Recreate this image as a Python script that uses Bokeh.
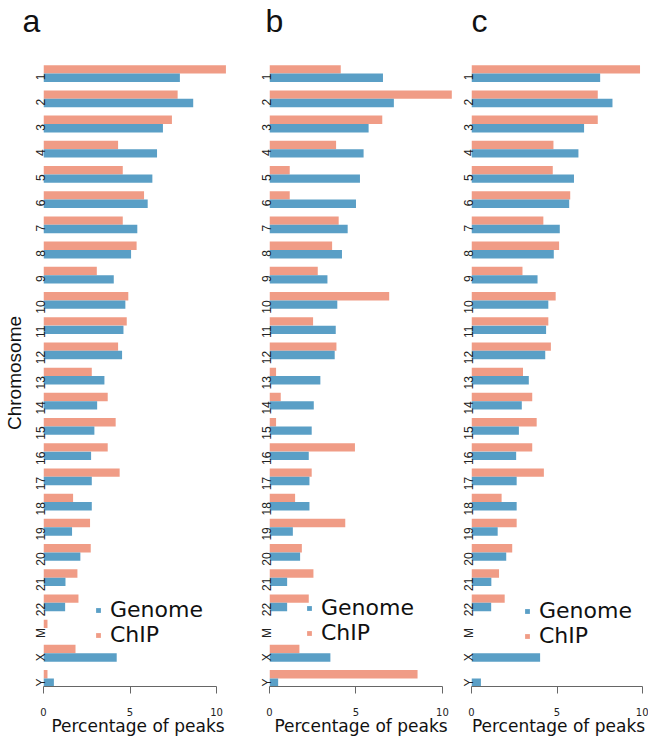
import math
from bokeh.plotting import figure
from bokeh.models import (Range1d, FixedTicker, ColumnDataSource, Legend,
                          LegendItem, Title)
from bokeh.transform import dodge
from bokeh.layouts import row
from bokeh.embed import file_html
from bokeh.resources import INLINE

chromosomes = [str(i) for i in range(1, 23)] + ["M", "X", "Y"]
x_ticks = [0, 5, 10]

a_genome = [7.88, 8.65, 6.90, 6.56, 6.29, 6.02, 5.42, 5.06, 4.06, 4.73, 4.62, 4.54, 3.52,
            3.10, 2.94, 2.75, 2.79, 2.79, 1.65, 2.13, 1.27, 1.25, 0.0, 4.23, 0.60]
a_chip = [10.54, 7.75, 7.42, 4.31, 4.58, 5.81, 4.58, 5.38, 3.08, 4.90, 4.81, 4.31, 2.79,
          3.71, 4.17, 3.71, 4.40, 1.71, 2.69, 2.73, 1.96, 2.02, 0.23, 1.85, 0.23]

b_genome = [6.56, 7.19, 5.73, 5.44, 5.23, 5.00, 4.52, 4.19, 3.35, 3.92, 3.83, 3.77, 2.94,
            2.56, 2.44, 2.27, 2.31, 2.31, 1.35, 1.77, 1.02, 1.02, 0.0, 3.52, 0.50]
b_chip = [4.12, 10.54, 6.52, 3.85, 1.17, 1.17, 4.00, 3.62, 2.79, 6.92, 2.52, 3.87, 0.38,
          0.65, 0.38, 4.94, 2.44, 1.48, 4.38, 1.87, 2.54, 2.27, 0.0, 1.73, 8.56]

c_genome = [7.52, 8.24, 6.58, 6.25, 5.99, 5.71, 5.16, 4.81, 3.86, 4.49, 4.36, 4.31, 3.35,
            2.94, 2.77, 2.61, 2.64, 2.64, 1.53, 2.03, 1.16, 1.15, 0.0, 4.01, 0.55]
c_chip = [9.85, 7.38, 7.38, 4.79, 4.75, 5.77, 4.20, 5.12, 2.98, 4.92, 4.49, 4.64, 3.01,
          3.55, 3.81, 3.55, 4.23, 1.76, 2.64, 2.38, 1.61, 1.94, 0.0, 0.0, 0.0]

CHIP_COLOR = "#F09C86"
GENOME_COLOR = "#5A9FC6"

FIG_H = 738
TOP = 58
BOTTOM = 50


def make_panel(letter, genome, chip, width, bl, br, xmax, ylabel, leg_loc, t_off):
    pos = list(range(1, len(chromosomes) + 1))
    src = ColumnDataSource(dict(pos=pos, genome=genome, chip=chip))
    p = figure(width=width, height=FIG_H, output_backend="svg", toolbar_location=None,
               x_range=Range1d(0, xmax), y_range=Range1d(25.32, 0.44),
               min_border_left=bl, min_border_right=br, min_border_top=TOP,
               min_border_bottom=BOTTOM)
    p.grid.visible = False
    p.outline_line_color = None
    p.background_fill_color = None
    p.border_fill_color = None

    rc = p.hbar(y=dodge("pos", -0.1667, range=p.y_range), right="chip", left=0,
                height=0.333, source=src, fill_color=CHIP_COLOR, line_color=None)
    rg = p.hbar(y=dodge("pos", 0.1667, range=p.y_range), right="genome", left=0,
                height=0.333, source=src, fill_color=GENOME_COLOR, line_color=None)

    xa = p.xaxis[0]
    xa.ticker = FixedTicker(ticks=x_ticks)
    xa.bounds = (0, 10)
    xa.axis_line_color = "#666666"
    xa.major_tick_line_color = "#666666"
    xa.minor_tick_line_color = None
    xa.major_tick_out = 7
    xa.major_tick_in = 0
    xa.major_label_standoff = 14
    xa.major_label_text_font = "DejaVu Sans"
    xa.major_label_text_font_size = "10px"
    xa.major_label_text_color = "#222222"
    xa.axis_label = "Percentage of peaks"
    xa.axis_label_text_font = "DejaVu Sans"
    xa.axis_label_text_font_size = "17px"
    xa.axis_label_text_font_style = "normal"
    xa.axis_label_text_color = "#111111"
    xa.axis_label_standoff = -3

    ya = p.yaxis[0]
    ya.ticker = FixedTicker(ticks=pos)
    ya.major_label_overrides = {i: c for i, c in zip(pos, chromosomes)}
    ya.major_label_orientation = math.pi / 2
    ya.axis_line_color = None
    ya.major_tick_line_color = None
    ya.minor_tick_line_color = None
    ya.major_tick_out = 0
    ya.major_tick_in = 0
    ya.major_label_standoff = 2
    ya.major_label_text_font = "Liberation Sans"
    ya.major_label_text_font_size = "12px"
    ya.major_label_text_color = "#222222"
    if ylabel:
        ya.axis_label = "Chromosome"
        ya.axis_label_text_font = "Liberation Sans"
        ya.axis_label_text_font_size = "19px"
        ya.axis_label_text_font_style = "normal"
        ya.axis_label_text_color = "#111111"
        ya.axis_label_standoff = 0

    t = Title(text=letter + "\n ", align="left", offset=t_off, standoff=0,
              vertical_align="bottom", text_line_height=0.58,
              text_font="Liberation Sans", text_font_size="32px",
              text_font_style="normal", text_color="#111111")
    p.add_layout(t, "above")

    legend = Legend(items=[LegendItem(label="Genome", renderers=[rg]),
                           LegendItem(label="ChIP", renderers=[rc])],
                    location=leg_loc, glyph_width=6, glyph_height=6,
                    label_standoff=9, spacing=0, padding=0, margin=0,
                    border_line_color=None, background_fill_alpha=0,
                    label_text_font="DejaVu Sans", label_text_font_size="22px",
                    label_text_color="#111111", label_height=24)
    p.add_layout(legend)
    return p


pa = make_panel("a", a_genome, a_chip, 233, 43, 1, 10.92, True, (52, 39), -21)
pb = make_panel("b", b_genome, b_chip, 219, 36, 0, 10.58, False, (37, 41), -4)
pc = make_panel("c", c_genome, c_chip, 196, 16, 3, 10.17, False, (53, 38), 0)

layout = row(pa, pb, pc)
open("out.html", "w").write(file_html(layout, INLINE))
